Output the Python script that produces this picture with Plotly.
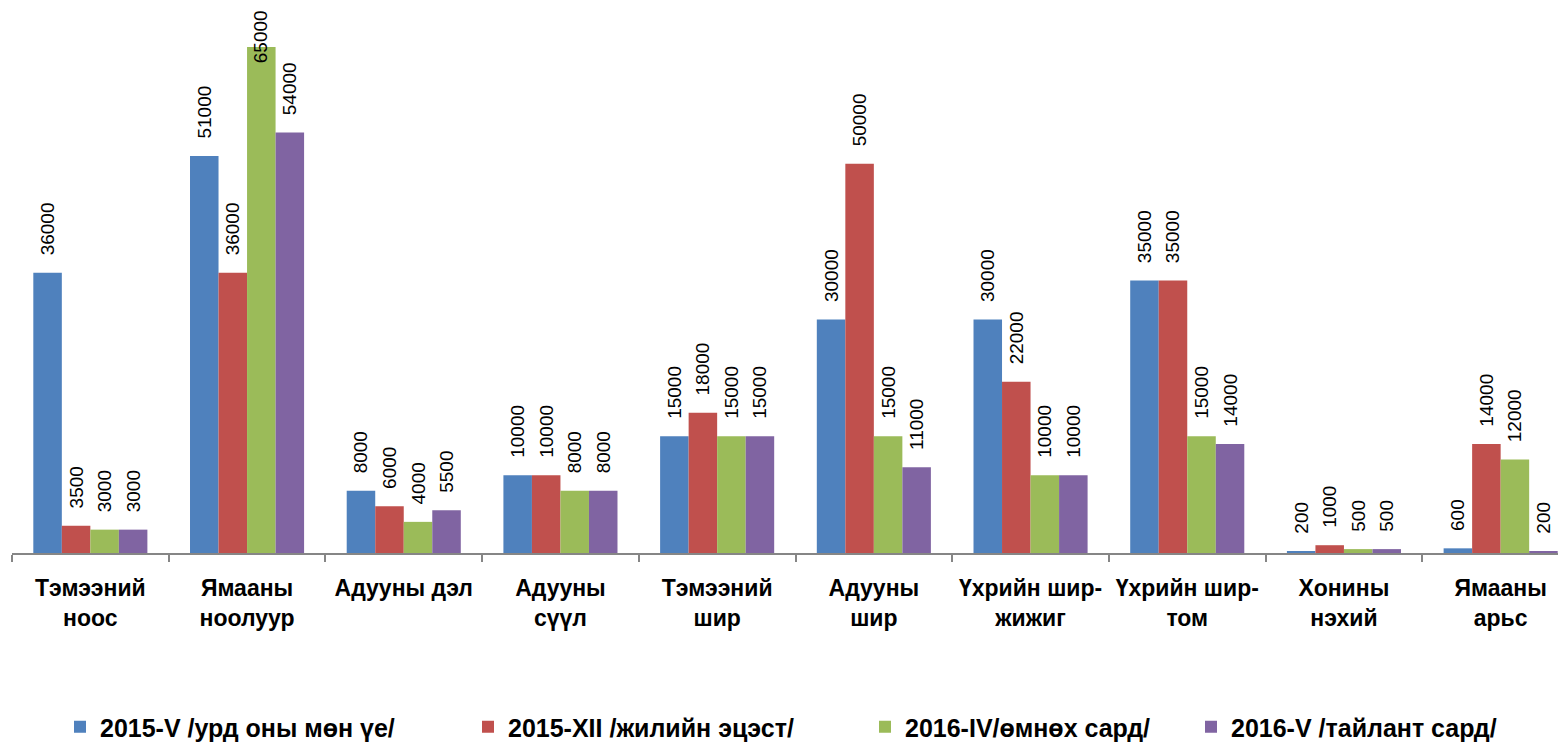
import plotly.graph_objects as go

categories = ["Тэмээний<br>ноос", "Ямааны<br>ноолуур", "Адууны дэл", "Адууны<br>сүүл",
              "Тэмээний<br>шир", "Адууны<br>шир", "Үхрийн шир-<br>жижиг", "Үхрийн шир-<br>том",
              "Хонины<br>нэхий", "Ямааны<br>арьс"]
series_names = ["2015-V /урд оны мөн үе/", "2015-XII /жилийн эцэст/",
                "2016-IV/өмнөх сард/", "2016-V /тайлант сард/"]
s2015_v = [36000, 51000, 8000, 10000, 15000, 30000, 30000, 35000, 200, 600]
s2015_xii = [3500, 36000, 6000, 10000, 18000, 50000, 22000, 35000, 1000, 14000]
s2016_iv = [3000, 65000, 4000, 8000, 15000, 15000, 10000, 15000, 500, 12000]
s2016_v = [3000, 54000, 5500, 8000, 15000, 11000, 10000, 14000, 500, 200]
colors = ["#4F81BD", "#C0504D", "#9BBB59", "#8064A2"]

# page body has an 8px margin; figure is sized to end at the window edge
OFF = 8
W, H = 1566 - OFF, 745 - OFF
Y_MAX = 70000
PAD = "\u00a0\u00a0\u2009"
FONT = "Liberation Sans, Arial, sans-serif"

all_series = [s2015_v, s2015_xii, s2016_iv, s2016_v]
legend_text_start = [97, 505, 902, 1228]

fig = go.Figure()
overflow = []
for i, (name, vals) in enumerate(zip(series_names, all_series)):
    texts = []
    for j, v in enumerate(vals):
        if v > 62000:
            texts.append("")
            overflow.append((i, j, v))
        else:
            texts.append(PAD + str(v))
    lg = "legend" if i == 0 else f"legend{i+1}"
    fig.add_trace(go.Bar(
        x=categories, y=vals, name=name, marker_color=colors[i],
        marker_line_width=0,
        text=texts, textposition="outside", textangle=-90, constraintext="none",
        textfont=dict(family=FONT, size=19, color="#000000"),
        cliponaxis=False, legend=lg,
    ))

bar_px = 156.7 * (1 - 0.272) / 4
for i, j, v in overflow:
    fig.add_annotation(
        x=categories[j], y=v, text=str(v), showarrow=False, textangle=-90,
        xshift=(i - 1.5) * bar_px, yshift=10, yanchor="middle",
        font=dict(family=FONT, size=19, color="#000000"),
    )

layout_legends = {}
for i in range(4):
    key = "legend" if i == 0 else f"legend{i+1}"
    layout_legends[key] = dict(
        xref="container", yref="container",
        x=(legend_text_start[i] - 37 - OFF) / W, y=(745 - 727) / H,
        xanchor="left", yanchor="middle", orientation="h",
        font=dict(family=FONT, size=25, color="#000000", weight="bold"),
        bgcolor="rgba(0,0,0,0)", itemwidth=30,
    )

fig.update_layout(
    width=W, height=H,
    margin=dict(l=12 - OFF, r=0, t=0, b=192, autoexpand=False),
    plot_bgcolor="white", paper_bgcolor="white",
    barmode="group", bargap=0.272, bargroupgap=0,
    showlegend=True,
    **layout_legends,
)
fig.update_xaxes(
    range=[-0.5, -0.5 + (W - 4) / 156.7], showgrid=False, automargin=False,
    showline=True, linecolor="#868686", linewidth=1.5,
    ticks="outside", tickson="boundaries", ticklen=7, tickcolor="#868686", tickwidth=1.5,
    tickfont=dict(family=FONT, size=23, color="#000000", weight="bold"),
    ticklabelstandoff=14, tickangle=0,
)
fig.update_yaxes(range=[0, Y_MAX], visible=False, showgrid=False)

fig.write_html("out.html")
